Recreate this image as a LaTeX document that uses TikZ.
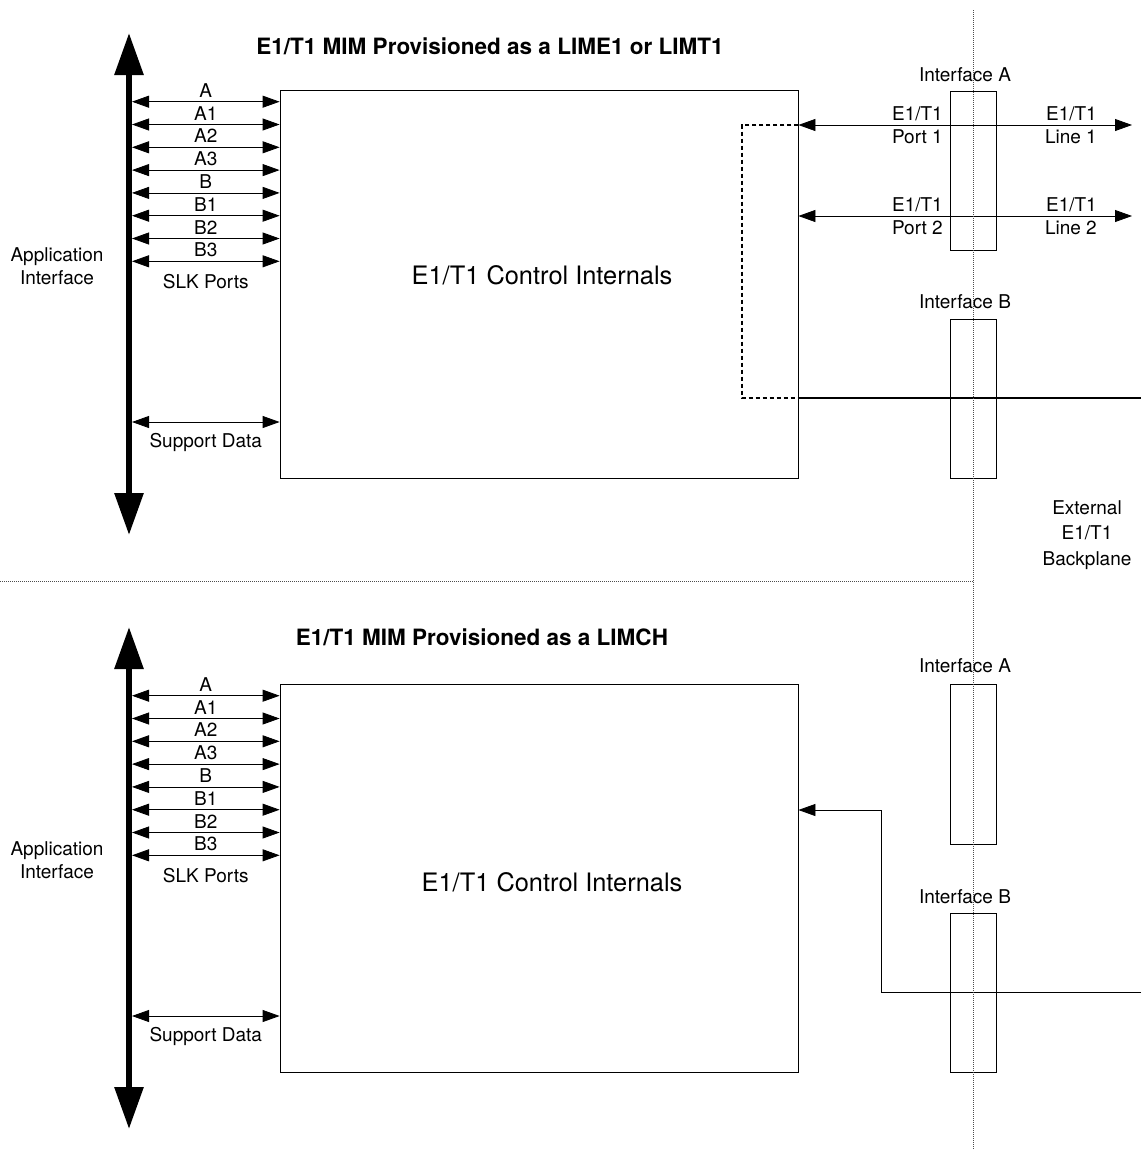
\documentclass[tikz,border=0pt]{standalone}
\usepackage{fontspec}
\setmainfont{TeX Gyre Heros}
\usetikzlibrary{positioning, arrows.meta}

\begin{document}
\begin{tikzpicture}[x=1pt, y=-1pt,
  lbl/.style={font=\fontsize{19}{23}\selectfont, inner sep=0pt, align=center},
  ttl/.style={font=\fontsize{22.5}{26}\selectfont\bfseries, inner sep=0pt},
  big/.style={font=\fontsize{25.4}{30}\selectfont, inner sep=0pt},
  frame/.style={draw, line width=0.8pt, inner sep=0pt},
  bus/.style={{Triangle[length=42pt, width=28pt]}-{Triangle[length=42pt, width=28pt]}, line width=6pt},
  arrow/.style={{Triangle[length=17pt, width=12pt]}-{Triangle[length=17pt, width=12pt]}, line width=0.8pt},
  feed/.style={-{Triangle[length=17pt, width=12pt]}, line width=0.8pt},
  sep/.style={line width=0.6pt, black!70, dash pattern=on 1pt off 1pt}]

  \useasboundingbox (0,0) rectangle (1141,1149);

  % left half, the same in both panels
  \foreach \p/\dy in {1/0, 2/594} {
  \begin{scope}[shift={(0,\dy)}, name prefix=p\p-]
    \node[frame, minimum width=518pt, minimum height=388pt] (core) at (539,284) {};
    \coordinate (btop) at (129,33);
    \coordinate (bbot) at (129,535);
    \draw[bus] (btop) -- (bbot);
    \node[lbl] (app) at (57,266) {Application\\Interface};
    \foreach \n/\y in {A/101.7, A1/124.5, A2/147.3, A3/170.1, B/192.9, B1/215.7, B2/238.5, B3/261.3} {
      \coordinate (s\n) at (132,\y);
      \draw[arrow] (s\n) -- node[lbl, above=4pt] (l\n) {\n} (s\n -| core.west);
    }
    \path (sB3) -- node[lbl, below=13pt] (slk) {SLK Ports} (sB3 -| core.west);
    \coordinate (sSD) at (132,422);
    \draw[arrow] (sSD) -- node[lbl, below=11pt] (lSD) {Support Data} (sSD -| core.west);
  \end{scope}
  }

  \node[ttl] (ttl1) at (490,46.5) {E1/T1 MIM Provisioned as a LIME1 or LIMT1};
  \node[ttl] (ttl2) at (482,637) {E1/T1 MIM Provisioned as a LIMCH};
  \node[big] (int1) at (542,275) {E1/T1 Control Internals};
  \node[big] (int2) at (552,882) {E1/T1 Control Internals};

  % upper panel, right side
  \node[frame, minimum width=46pt, minimum height=159pt] (ifA1) at (973,170.5) {};
  \node[lbl] (nA1) at (965,75) {Interface A};
  \node[frame, minimum width=46pt, minimum height=159pt] (ifB1) at (973,398.5) {};
  \node[lbl] (nB1) at (965,302) {Interface B};
  \coordinate (line1) at (1132,125);
  \coordinate (line2) at (1132,216);
  \draw[arrow] (p1-core.east |- line1) -- (line1);
  \draw[arrow] (p1-core.east |- line2) -- (line2);
  \node[lbl, align=right, anchor=east] (pt1) at (943,125) {E1/T1\\Port 1};
  \node[lbl, align=right, anchor=east] (pt2) at (943,216) {E1/T1\\Port 2};
  \node[lbl, align=right, anchor=east] (ln1) at (1097,125) {E1/T1\\Line 1};
  \node[lbl, align=right, anchor=east] (ln2) at (1097,216) {E1/T1\\Line 2};
  \coordinate (lp1) at (742,125);
  \coordinate (lp2) at (742,398);
  \draw[line width=1.2pt, dash pattern=on 4pt off 3pt] (p1-core.east |- lp1) -- (lp1) -- (lp2) -- (p1-core.east |- lp2);
  \coordinate (bp1) at (1141,398);
  \draw[line width=1.2pt] (p1-core.east |- bp1) -- (bp1);
  \node[lbl, font=\fontsize{19}{25.5}\selectfont] (ext) at (1087,535) {External\\E1/T1\\Backplane};

  % lower panel, right side
  \node[frame, minimum width=46pt, minimum height=160pt] (ifA2) at (973,764) {};
  \node[lbl] (nA2) at (965,666) {Interface A};
  \node[frame, minimum width=46pt, minimum height=159pt] (ifB2) at (973,992.5) {};
  \node[lbl] (nB2) at (965,897) {Interface B};
  \coordinate (bp2) at (1141,992);
  \coordinate (bk1) at (881,992);
  \coordinate (bk2) at (881,810);
  \draw[feed] (bp2) -- (bk1) -- (bk2) -- (bk2 -| p2-core.east);

  % backplane and panel divider
  \coordinate (vtop) at (973,10);
  \coordinate (vbot) at (973,1149);
  \draw[sep] (vtop) -- (vbot);
  \coordinate (hl) at (0,581);
  \draw[sep] (hl) -- (hl -| vtop);
\end{tikzpicture}
\end{document}
